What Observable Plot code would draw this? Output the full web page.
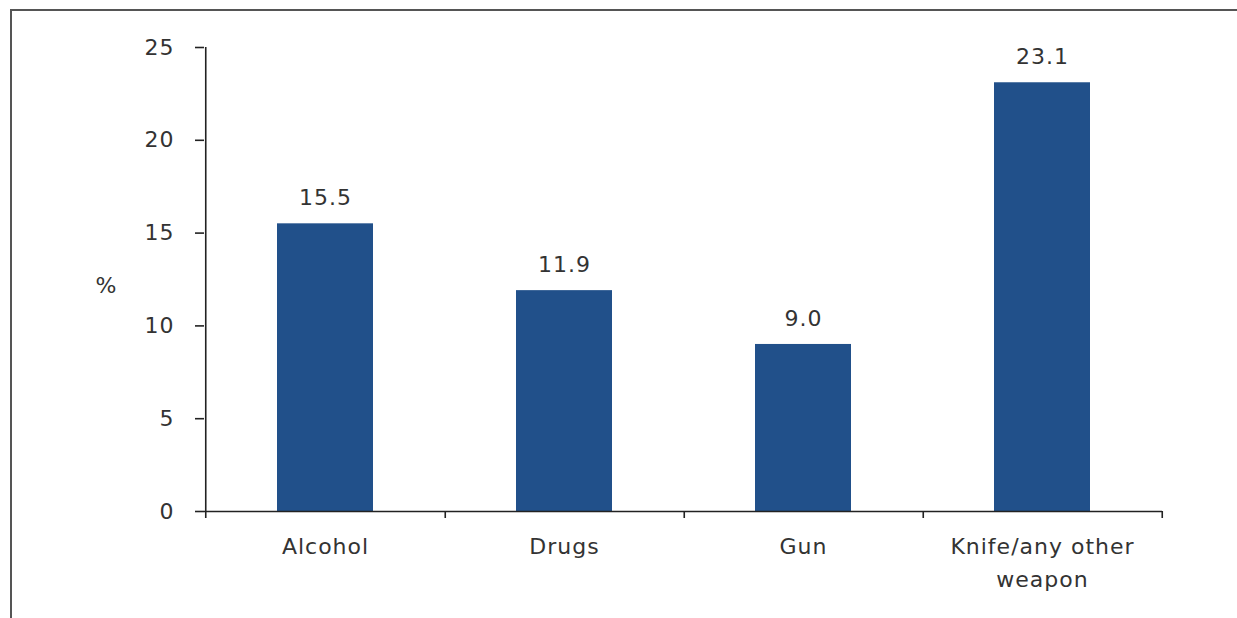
<!DOCTYPE html>
<html>
<head>
<meta charset="utf-8">
<script src="https://cdn.jsdelivr.net/npm/d3@7"></script>
<script src="https://cdn.jsdelivr.net/npm/@observablehq/plot@0.6"></script>
<style>
  html, body { margin: 0; padding: 0; background: #fff; }
  #wrap { position: relative; width: 1237px; height: 618px; overflow: hidden; }
  #border { position: absolute; left: 10px; top: 9px; width: 1240px; height: 620px;
            border-top: 2px solid #555; border-left: 2px solid #555; }
  #chart { position: absolute; left: 0; top: 0; }
  #chart svg text { letter-spacing: 1px; }
</style>
</head>
<body>
<div id="wrap"><div id="border"></div><div id="chart"></div></div>
<script>
const categories = ["Alcohol", "Drugs", "Gun", "Knife/any other weapon"];
const values = [15.5, 11.9, 9.0, 23.1];
const tickLabels = {"Alcohol": "Alcohol", "Drugs": "Drugs", "Gun": "Gun", "Knife/any other weapon": "Knife/any other\nweapon"};
const yTicks = [0, 5, 10, 15, 20, 25];

const data = categories.map((c, i) => ({category: c, value: values[i]}));

const W = 1237, H = 618;
const mL = 204, mR = 75, mT = 47, mB = 107;
const step = (W - mL - mR) / categories.length;
const font = "'DejaVu Sans', 'Open Sans', sans-serif";
const textColor = "#333";
const fs = 22;

const chart = Plot.plot({
  width: W,
  height: H,
  marginLeft: mL,
  marginRight: mR,
  marginTop: mT,
  marginBottom: mB,
  style: {fontFamily: font, fontSize: fs + "px", color: textColor, background: "transparent"},
  x: {domain: categories, paddingInner: 0.6, paddingOuter: 0.3, label: null},
  y: {domain: [0, 25], label: null},
  marks: [
    Plot.barY(data, {x: "category", y: "value", fill: "#21508a"}),
    // axis lines
    Plot.ruleY([0], {stroke: "#222", strokeWidth: 1.6}),
    Plot.ruleX([categories[0]], {dx: -step / 2, y1: 0, y2: 25, stroke: "#222", strokeWidth: 1.6}),
    // y axis
    Plot.axisY({ticks: yTicks, tickSize: 9, tickPadding: 21, stroke: "#222", strokeWidth: 1.6, fontSize: fs, fill: textColor, label: null}),
    // x boundary ticks
    Plot.axisX({tickSize: 7, text: null, dx: step / 2, stroke: "#222", strokeWidth: 1.6, label: null}),
    Plot.axisX({ticks: [categories[0]], tickSize: 7, text: null, dx: -step / 2, stroke: "#222", strokeWidth: 1.6, label: null}),
    // x labels
    Plot.axisX({tickSize: 0, tickPadding: 19, tickFormat: d => tickLabels[d], fontSize: fs, fill: textColor, lineHeight: 1.5, label: null}),
    // value labels
    Plot.text(data, {x: "category", y: "value", text: d => d.value.toFixed(1), dy: -26, fontSize: fs, fill: textColor}),
    // "%" label
    Plot.text(["%"], {frameAnchor: "left", dx: -109, dy: 6, fontSize: fs, fill: textColor})
  ]
});
document.getElementById("chart").appendChild(chart);
</script>
</body>
</html>
